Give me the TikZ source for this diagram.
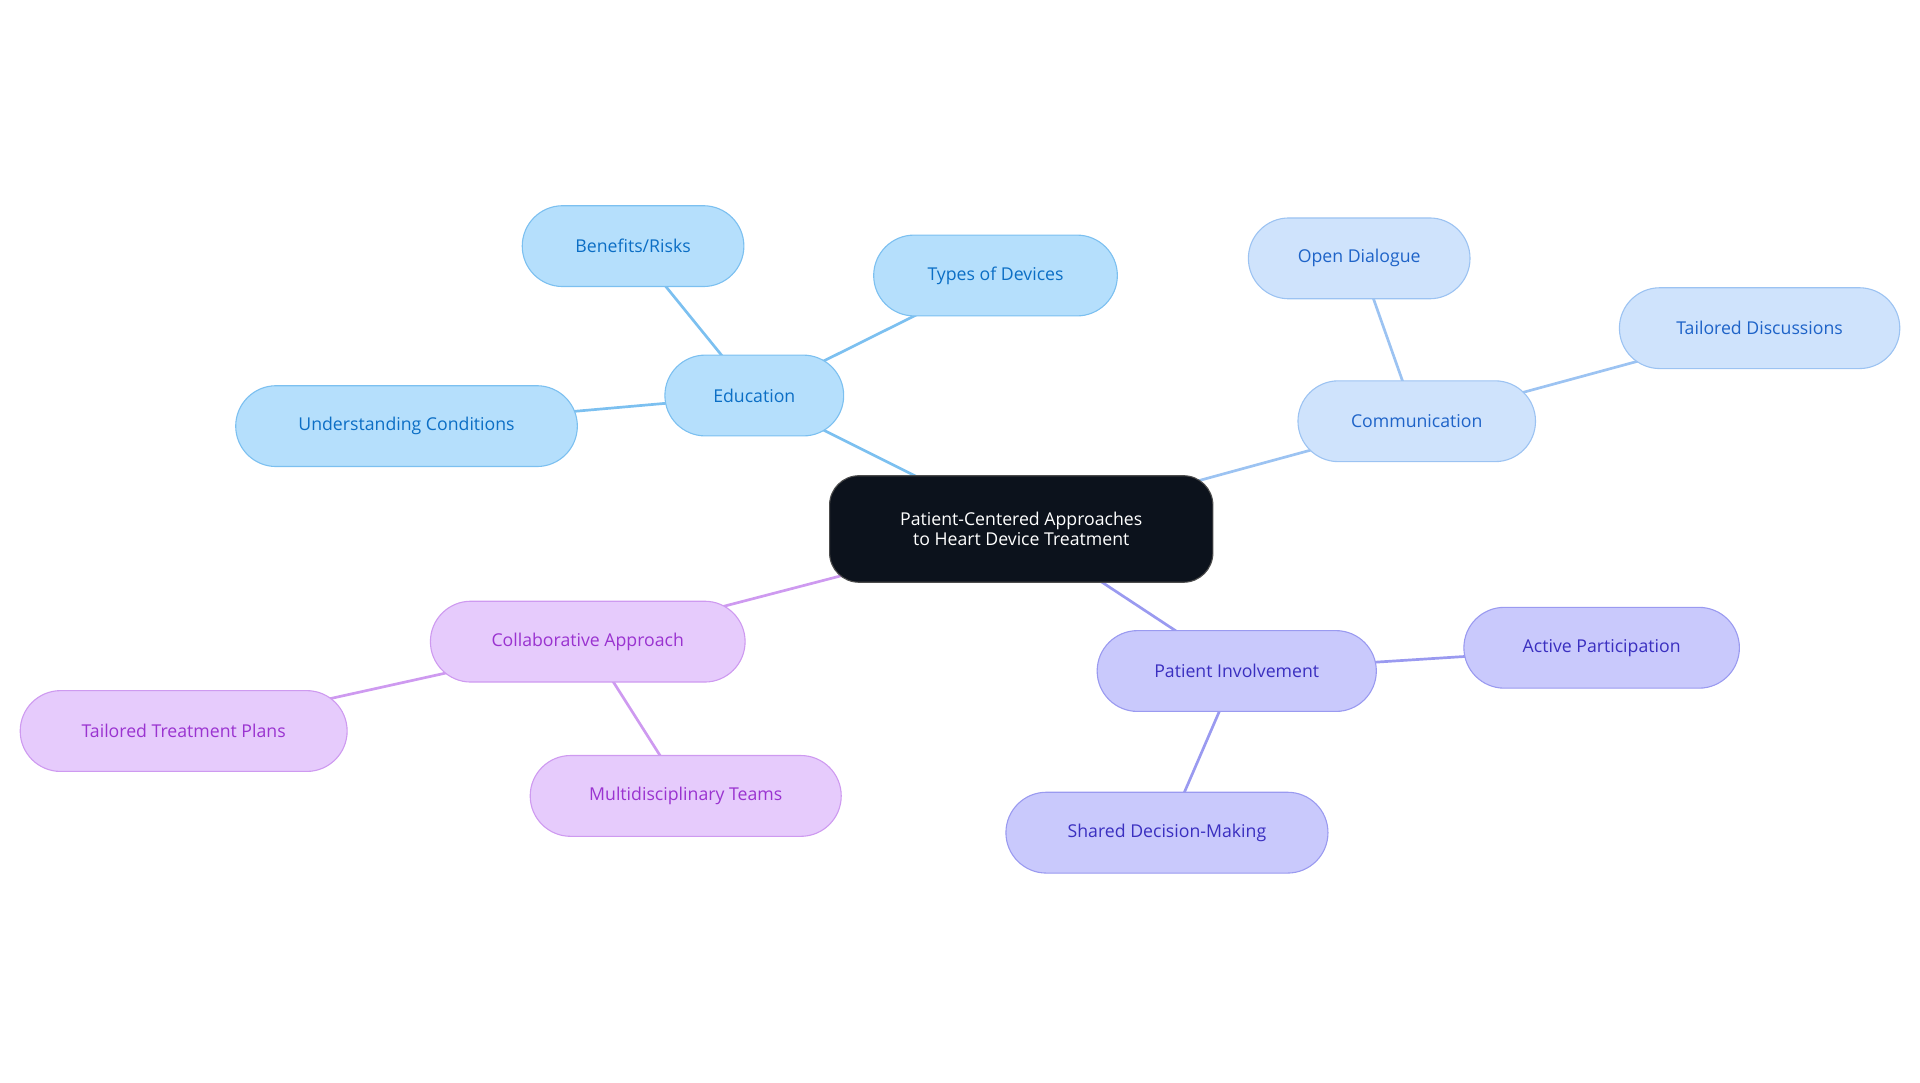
\documentclass[tikz,border=0pt]{standalone}
\usepackage{fontspec}
\setmainfont{Open Sans}
\usetikzlibrary{backgrounds}
\definecolor{bF}{HTML}{B5DFFC}\definecolor{bD}{HTML}{7CC0F0}\definecolor{bT}{HTML}{0B6EC5}
\definecolor{cF}{HTML}{CFE3FC}\definecolor{cD}{HTML}{9CC3F2}\definecolor{cT}{HTML}{1E63C8}
\definecolor{pF}{HTML}{C9C9FC}\definecolor{pD}{HTML}{9A9AF0}\definecolor{pT}{HTML}{3A2FC0}
\definecolor{mF}{HTML}{E6CBFC}\definecolor{mD}{HTML}{CE9AF0}\definecolor{mT}{HTML}{9A33D0}
\definecolor{dk}{HTML}{0C121C}
\begin{document}
\begin{tikzpicture}[x=1bp,y=-1bp,
  box/.style={rounded corners=16bp,minimum height=66bp,line width=0.9bp,font=\fontsize{14.5}{17}\selectfont,inner sep=0pt,align=center},
  bb/.style={box,fill=bF,draw=bD,text=bT},
  cb/.style={box,fill=cF,draw=cD,text=cT},
  pb/.style={box,fill=pF,draw=pD,text=pT},
  mb/.style={box,fill=mF,draw=mD,text=mT},
  ed/.style={line width=2.2bp}]
\useasboundingbox (0,0) rectangle (1568,884);
\node[box,fill=dk,draw=gray!60!black,text=white,minimum width=313bp,minimum height=87bp,rounded corners=24bp,font=\fontsize{14.5}{16}\selectfont] (c) at (834,432) {Patient-Centered Approaches\\to Heart Device Treatment};
\node[bb,minimum width=146bp,rounded corners=33bp] (e) at (616,323) {Education};
\node[bb,minimum width=181bp,rounded corners=33bp] (e1) at (517,201) {Benefits/Risks};
\node[bb,minimum width=199bp,rounded corners=33bp] (e2) at (813,225) {Types of Devices};
\node[bb,minimum width=279bp,rounded corners=33bp] (e3) at (332,348) {Understanding Conditions};
\node[cb,minimum width=194bp,rounded corners=33bp] (m) at (1157,344) {Communication};
\node[cb,minimum width=181bp,rounded corners=33bp] (m1) at (1110,211) {Open Dialogue};
\node[cb,minimum width=229bp,rounded corners=33bp] (m2) at (1437,268) {Tailored Discussions};
\node[pb,minimum width=228bp,rounded corners=33bp] (p) at (1010,548) {Patient Involvement};
\node[pb,minimum width=225bp,rounded corners=33bp] (p1) at (1308,529) {Active Participation};
\node[pb,minimum width=263bp,rounded corners=33bp] (p2) at (953,680) {Shared Decision-Making};
\node[mb,minimum width=257bp,rounded corners=33bp] (a) at (480,524) {Collaborative Approach};
\node[mb,minimum width=267bp,rounded corners=33bp] (a1) at (150,597) {Tailored Treatment Plans};
\node[mb,minimum width=254bp,rounded corners=33bp] (a2) at (560,650) {Multidisciplinary Teams};
\begin{pgfonlayer}{background}
\draw[ed,bD] (c.center)--(e.center) (e.center)--(e1.center) (e.center)--(e2.center) (e.center)--(e3.center);
\draw[ed,cD] (c.center)--(m.center) (m.center)--(m1.center) (m.center)--(m2.center);
\draw[ed,pD] (c.center)--(p.center) (p.center)--(p1.center) (p.center)--(p2.center);
\draw[ed,mD] (c.center)--(a.center) (a.center)--(a1.center) (a.center)--(a2.center);
\end{pgfonlayer}
\end{tikzpicture}
\end{document}
